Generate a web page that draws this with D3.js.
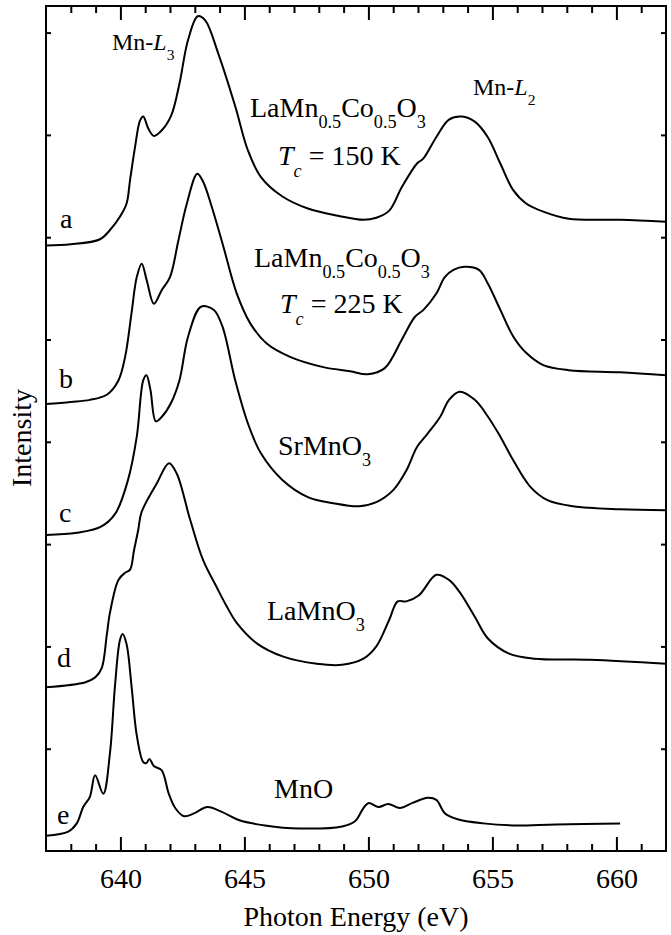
<!DOCTYPE html>
<html><head><meta charset="utf-8">
<script src="https://cdn.jsdelivr.net/npm/d3@7"></script>
<style>
body{margin:0;background:#fff}
svg text{font-family:"Liberation Serif","Times New Roman",Times,"DejaVu Serif",serif !important;fill:#000}
</style>
</head><body>
<svg id="chart" width="671" height="935"></svg>
<script>
// ---- data ----
const energyA = [637, 638.0, 639.18, 639.58, 639.98, 640.25, 640.39, 640.59, 640.79, 640.92, 641.13, 641.35, 641.69, 642.05, 642.38, 642.73, 643.12, 643.42, 643.94, 644.63, 645.14, 645.66, 646.52, 647.56, 648.77, 649.80, 650.32, 650.84, 651.35, 651.96, 652.22, 652.74, 653.25, 653.77, 654.29, 654.81, 655.32, 655.84, 656.36, 657.05, 658.08, 660.15, 662];
const intensityA = [5.92, 5.93, 5.98, 6.07, 6.20, 6.33, 6.56, 6.88, 7.14, 7.18, 7.06, 6.99, 7.05, 7.19, 7.50, 7.93, 8.16, 8.12, 7.80, 7.28, 6.85, 6.59, 6.40, 6.28, 6.21, 6.17, 6.19, 6.26, 6.49, 6.72, 6.77, 6.98, 7.15, 7.18, 7.13, 6.98, 6.72, 6.46, 6.33, 6.25, 6.18, 6.17, 6.15];

const energyB = [637, 638.0, 638.77, 639.45, 639.92, 640.19, 640.45, 640.66, 640.86, 641.06, 641.35, 641.66, 642.0, 642.34, 642.67, 643.10, 643.34, 643.68, 644.15, 644.69, 645.23, 645.90, 646.84, 648.18, 649.26, 649.97, 650.66, 651.35, 651.87, 652.22, 652.74, 653.08, 653.43, 653.86, 654.46, 654.81, 655.32, 655.84, 656.36, 657.05, 658.08, 660.15, 662];
const intensityB = [4.37, 4.39, 4.41, 4.46, 4.60, 4.83, 5.26, 5.61, 5.74, 5.58, 5.35, 5.48, 5.61, 5.97, 6.32, 6.62, 6.54, 6.30, 5.91, 5.45, 5.16, 4.96, 4.83, 4.73, 4.69, 4.66, 4.72, 5.00, 5.22, 5.29, 5.45, 5.61, 5.68, 5.71, 5.68, 5.55, 5.29, 5.03, 4.87, 4.75, 4.70, 4.68, 4.65];

const energyC = [637, 638.24, 639.22, 639.80, 640.31, 640.66, 640.92, 641.05, 641.21, 641.43, 641.69, 642.04, 642.38, 642.73, 643.25, 643.76, 644.11, 644.63, 645.14, 645.66, 646.52, 647.56, 648.59, 649.63, 650.32, 651.01, 651.53, 651.96, 652.39, 652.91, 653.25, 653.68, 654.29, 654.81, 655.32, 655.84, 656.53, 657.22, 658.26, 660.15, 662];
const intensityC = [3.09, 3.11, 3.17, 3.30, 3.63, 4.05, 4.60, 4.65, 4.51, 4.20, 4.25, 4.38, 4.60, 5.03, 5.32, 5.29, 5.13, 4.60, 4.18, 3.89, 3.63, 3.46, 3.40, 3.37, 3.41, 3.53, 3.72, 3.95, 4.08, 4.25, 4.41, 4.49, 4.41, 4.25, 4.05, 3.82, 3.56, 3.43, 3.37, 3.34, 3.33];

const energyD = [637, 638.59, 639.0, 639.25, 639.45, 639.58, 639.92, 640.19, 640.39, 640.55, 640.72, 640.85, 641.46, 641.96, 642.27, 642.81, 643.34, 643.88, 644.29, 644.69, 645.50, 646.57, 647.92, 648.94, 649.80, 650.32, 650.84, 651.18, 651.53, 652.04, 652.74, 653.25, 653.68, 654.29, 654.81, 655.67, 656.70, 658.95, 662];
const intensityD = [1.60, 1.65, 1.70, 1.79, 2.11, 2.33, 2.65, 2.72, 2.75, 2.94, 3.14, 3.31, 3.59, 3.79, 3.69, 3.24, 2.84, 2.58, 2.39, 2.23, 2.03, 1.90, 1.83, 1.82, 1.88, 2.00, 2.26, 2.44, 2.44, 2.50, 2.70, 2.65, 2.53, 2.29, 2.08, 1.93, 1.88, 1.87, 1.83];

const energyE = [637, 637.90, 638.24, 638.50, 638.77, 638.98, 639.31, 639.58, 639.78, 639.98, 640.09, 640.25, 640.45, 640.66, 640.92, 641.05, 641.17, 641.35, 641.66, 641.95, 642.21, 642.56, 642.99, 643.50, 644.11, 644.80, 645.83, 647.21, 648.94, 649.46, 649.80, 650.01, 650.41, 650.80, 651.27, 651.78, 652.39, 652.74, 653.08, 653.60, 654.63, 655.84, 657.56, 660.15];
const intensityE = [0.15, 0.19, 0.27, 0.43, 0.53, 0.74, 0.56, 0.96, 1.61, 2.06, 2.12, 2.02, 1.61, 1.13, 0.87, 0.86, 0.90, 0.83, 0.79, 0.56, 0.42, 0.34, 0.37, 0.43, 0.38, 0.30, 0.25, 0.22, 0.24, 0.29, 0.42, 0.47, 0.43, 0.46, 0.42, 0.47, 0.52, 0.50, 0.37, 0.31, 0.27, 0.25, 0.26, 0.27];

const xMajorTicks = [640, 645, 650, 655, 660];
const xMinorTicks = [638, 639, 641, 642, 643, 644, 646, 647, 648, 649, 651, 652, 653, 654, 656, 657, 658, 659, 661];
const yTicks = [1, 2, 3, 4, 5, 6, 7, 8];
const curveLetters = ["a", "b", "c", "d", "e"];

// ---- layout ----
const FONT = '"Liberation Serif","Times New Roman",Times,"DejaVu Serif",serif';
const L = 46, R = 666, T = 6, B = 851;
const svg = d3.select("#chart");
const x = d3.scaleLinear().domain([637, 662]).range([L, R]);
const y = d3.scaleLinear().domain([0, 8.26]).range([B, T]);

function styleAxis(g){
  g.select(".domain").remove();
  g.attr("font-family", FONT);
  g.selectAll(".tick line").attr("stroke", "#000").attr("stroke-width", 2);
}
// bottom
svg.append("g").attr("transform", `translate(0,${B})`)
  .call(d3.axisBottom(x).tickValues(xMajorTicks).tickSize(-14).tickPadding(17).tickFormat(d3.format("d")))
  .call(styleAxis)
  .call(g => g.selectAll(".tick text").attr("font-size", 28).attr("font-family", FONT).attr("fill", "#000"));
svg.append("g").attr("transform", `translate(0,${B})`)
  .call(d3.axisBottom(x).tickValues(xMinorTicks).tickSize(-7).tickFormat(""))
  .call(styleAxis);
// top
svg.append("g").attr("transform", `translate(0,${T})`)
  .call(d3.axisTop(x).tickValues(xMajorTicks).tickSize(-14).tickFormat(""))
  .call(styleAxis);
svg.append("g").attr("transform", `translate(0,${T})`)
  .call(d3.axisTop(x).tickValues(xMinorTicks).tickSize(-7).tickFormat(""))
  .call(styleAxis);
// left / right
svg.append("g").attr("transform", `translate(${L},0)`)
  .call(d3.axisLeft(y).tickValues(yTicks).tickSize(-5).tickFormat(""))
  .call(styleAxis);
svg.append("g").attr("transform", `translate(${R},0)`)
  .call(d3.axisRight(y).tickValues(yTicks).tickSize(-5).tickFormat(""))
  .call(styleAxis);

// frame
svg.append("rect").attr("x", L).attr("y", T).attr("width", R - L).attr("height", B - T)
  .attr("fill", "none").attr("stroke", "#000").attr("stroke-width", 2);

// curves
const series = [
  [energyA, intensityA], [energyB, intensityB], [energyC, intensityC],
  [energyD, intensityD], [energyE, intensityE]
];
const line = d3.line().x(d => x(d[0])).y(d => y(d[1])).curve(d3.curveCatmullRom.alpha(0.5));
series.forEach(([es, vs]) => {
  svg.append("path").datum(es.map((e, i) => [e, vs[i]]))
    .attr("d", line).attr("fill", "none").attr("stroke", "#000")
    .attr("stroke-width", 2).attr("stroke-linejoin", "round");
});

// rich text helper: parts = [[text, flags]] flags: 'i' italic, 's' subscript
function rich(px, py, parts, size, off){
  const t = svg.append("text").attr("x", px).attr("y", py)
    .attr("font-size", size).attr("font-family", FONT);
  let shift = 0;
  parts.forEach(([s, f = ""]) => {
    const sub = f.includes("s");
    const target = sub ? off : 0;
    const ts = t.append("tspan").text(s).attr("dy", target - shift);
    shift = target;
    if (sub) ts.attr("font-size", size * 0.65);
    if (f.includes("i")) ts.attr("font-style", "italic");
  });
  return t;
}

rich(112, 50, [["Mn-"], ["L", "i"], ["3", "s"]], 24, 10);
rich(473, 95, [["Mn-"], ["L", "i"], ["2", "s"]], 24, 10);
rich(250, 117, [["LaMn"], ["0.5", "s"], ["Co"], ["0.5", "s"], ["O"], ["3", "s"]], 28, 11);
rich(278, 165, [["T", "i"], ["c", "is"], [" = 150 K"]], 28, 12);
rich(254, 267, [["LaMn"], ["0.5", "s"], ["Co"], ["0.5", "s"], ["O"], ["3", "s"]], 28, 11);
rich(280, 313, [["T", "i"], ["c", "is"], [" = 225 K"]], 28, 12);
rich(278, 455, [["SrMnO"], ["3", "s"]], 28, 11);
rich(267, 620, [["LaMnO"], ["3", "s"]], 28, 11);
rich(274, 798, [["MnO"]], 28, 11);

const letterPos = [[60, 228], [59, 388], [59, 522], [57, 667], [57, 824]];
curveLetters.forEach((c, i) => {
  svg.append("text").attr("x", letterPos[i][0]).attr("y", letterPos[i][1])
    .attr("font-size", 28).attr("font-family", FONT).text(c);
});

// axis titles
svg.append("text").attr("x", (L + R) / 2).attr("y", 926).attr("text-anchor", "middle")
  .attr("font-size", 28).attr("font-family", FONT).text("Photon Energy (eV)");
svg.append("text").attr("transform", "translate(31,438) rotate(-90)").attr("text-anchor", "middle")
  .attr("font-size", 28).attr("font-family", FONT).text("Intensity");
</script>
</body></html>
